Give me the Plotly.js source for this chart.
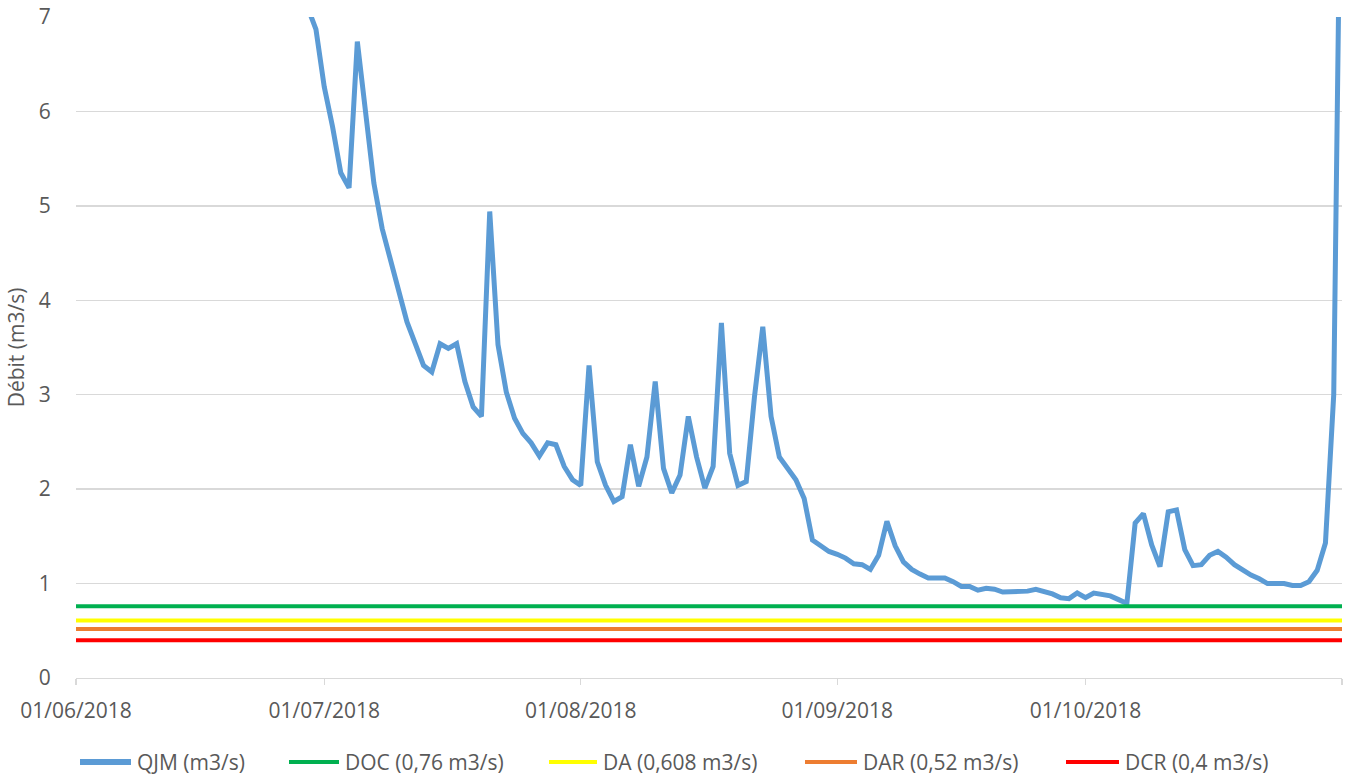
<!DOCTYPE html>
<html>
<head>
<meta charset="utf-8">
<script src="https://cdn.plot.ly/plotly-3.0.1.min.js"></script>
<style>
  html, body { margin: 0; padding: 0; background: white; }
  #chart { width: 1347px; height: 778px; }
</style>
</head>
<body>
<div id="chart"></div>
<script>
// Daily mean flow (QJM) — values above 7 are off the chart, only the tail of June is kept.
const QJM_START = "2018-06-29";
const qjmValues = [
  7.1, 6.87,                                                   // 29-30/06
  6.26, 5.84, 5.35, 5.19, 6.74, 5.98, 5.24, 4.76, 4.43, 4.13,  // 01-10/07
  3.77, 3.54, 3.31, 3.24, 3.54, 3.49, 3.54, 3.14, 2.87, 2.77,  // 11-20/07
  4.94, 3.53, 3.03, 2.75, 2.59, 2.49, 2.35, 2.49, 2.47, 2.24,  // 21-30/07
  2.10,                                                        // 31/07
  2.04, 3.31, 2.29, 2.04, 1.87, 1.92, 2.47, 2.03, 2.34, 3.14,  // 01-10/08
  2.22, 1.96, 2.15, 2.77, 2.34, 2.01, 2.24, 3.76, 2.38, 2.04,  // 11-20/08
  2.08, 2.98, 3.72, 2.77, 2.34, 2.22, 2.10, 1.90, 1.46, 1.40,  // 21-30/08
  1.34,                                                        // 31/08
  1.31, 1.27, 1.21, 1.20, 1.15, 1.30, 1.66, 1.40, 1.23, 1.15,  // 01-10/09
  1.10, 1.06, 1.06, 1.06, 1.02, 0.97, 0.97, 0.93, 0.95, 0.94,  // 11-20/09
  0.91, 0.91, 0.91, 0.92, 0.94, 0.92, 0.89, 0.85, 0.84, 0.90,  // 21-30/09
  0.85, 0.90, 0.88, 0.87, 0.83, 0.79, 1.64, 1.74, 1.41, 1.18,  // 01-10/10
  1.76, 1.78, 1.36, 1.19, 1.20, 1.30, 1.34, 1.28, 1.20, 1.14,  // 11-20/10
  1.09, 1.05, 1.00, 1.00, 1.00, 0.98, 0.98, 1.02, 1.14, 1.43,  // 21-30/10
  3.00, 10.0                                                   // 31/10, 01/11
];

// Regulatory thresholds (m3/s)
const thrNames  = ["DOC (0,76 m3/s)", "DA (0,608 m3/s)", "DAR (0,52 m3/s)", "DCR (0,4 m3/s)"];
const thrValues = [0.76, 0.608, 0.52, 0.4];
const thrColors = ["#00B050", "#FFFF00", "#ED7D31", "#FF0000"];

const X_START = "2018-06-01";
const X_END   = "2018-11-01";
const tickDates  = ["2018-06-01", "2018-07-01", "2018-08-01", "2018-09-01", "2018-10-01", "2018-11-01"];
const tickLabels = ["01/06/2018", "01/07/2018", "01/08/2018", "01/09/2018", "01/10/2018", ""];

function dayList(start, n) {
  const d0 = new Date(start + "T00:00:00Z");
  return Array.from({ length: n }, (_, i) =>
    new Date(d0.getTime() + i * 86400000).toISOString().slice(0, 10));
}

const TEXT = "#595959";
const GRID = "#D9D9D9";
const QJM_COLOR = "#5B9BD5";

const traces = [
  { x: dayList(QJM_START, qjmValues.length), y: qjmValues, name: "QJM (m3/s)",
    type: "scatter", mode: "lines", line: { color: QJM_COLOR, width: 5 } },
  ...thrNames.map((n, i) => ({
    x: [X_START, X_END], y: [thrValues[i], thrValues[i]], name: n,
    type: "scatter", mode: "lines", line: { color: thrColors[i], width: 4 },
  })),
];

// Excel-style legend row under the axis (Plotly's own legend samples are too short).
const M = { l: 76, r: 5, t: 17, b: 100 };
const plotW = 1347 - M.l - M.r;
const px = (x) => (x - M.l) / plotW;
const LEG_Y = -84 / (778 - M.t - M.b);        // 762 px in paper units
const legItems = [
  { name: "QJM (m3/s)", color: QJM_COLOR, w: 6, x0: 80, x1: 131 },
  ...thrNames.map((n, i) => ({ name: n, color: thrColors[i], w: 4,
    x0: [289, 549, 805, 1066][i], x1: [339, 597, 857, 1119][i] })),
];
const shapes = legItems.map((it) => ({
  type: "line", xref: "paper", yref: "paper",
  x0: px(it.x0), x1: px(it.x1), y0: LEG_Y, y1: LEG_Y,
  line: { color: it.color, width: it.w },
}));
const annotations = legItems.map((it) => ({
  xref: "paper", yref: "paper", x: px(it.x1 + 4), y: LEG_Y,
  xanchor: "left", yanchor: "middle", showarrow: false,
  text: it.name, font: { size: 21, color: TEXT },
}));

const layout = {
  width: 1347, height: 778,
  font: { family: "Open Sans, sans-serif", size: 21, color: TEXT },
  margin: M,
  paper_bgcolor: "white",
  plot_bgcolor: "white",
  showlegend: false,
  shapes, annotations,
  xaxis: {
    type: "date", range: [X_START, X_END],
    tickmode: "array", tickvals: tickDates, ticktext: tickLabels,
    showgrid: false, zeroline: false,
    showline: true, linecolor: GRID, linewidth: 1.3,
    ticks: "outside", ticklen: 6, tickcolor: GRID, tickwidth: 1.3,
    ticklabelstandoff: 7,
  },
  yaxis: {
    range: [0, 7], dtick: 1, tick0: 0,
    showgrid: true, gridcolor: GRID, gridwidth: 1.3,
    zeroline: false, showline: false,
    ticks: "outside", ticklen: 20, tickcolor: "rgba(0,0,0,0)",
    title: { text: "Débit (m3/s)", standoff: 8, font: { size: 21, color: TEXT } },
  },
};

Plotly.newPlot("chart", traces, layout, { displayModeBar: false, staticPlot: true });
</script>
</body>
</html>
